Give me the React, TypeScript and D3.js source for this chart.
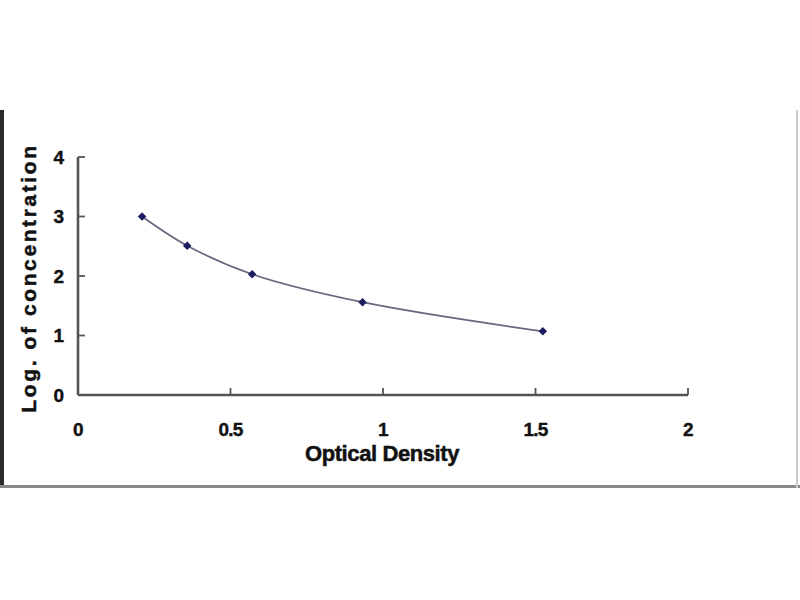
import React, { useEffect, useRef } from 'react';
import * as d3 from 'd3';

// standard curve points
const opticalDensity = [0.21, 0.358, 0.571, 0.933, 1.524];
const logConcentration = [3.0, 2.51, 2.03, 1.56, 1.07];
const xTicks = [0, 0.5, 1, 1.5, 2];
const yTicks = [0, 1, 2, 3, 4];

const xTitle = 'Optical Density';
const yTitle = 'Log. of concentration';

const App: React.FC = () => {
    const svgRef = useRef<SVGSVGElement>(null);

    useEffect(() => {
        if (!svgRef.current) return;
        const svg = d3.select(svgRef.current);
        svg.selectAll('*').remove();

        const font = '"Liberation Sans", Arial, sans-serif';
        const axisColor = '#555555';

        svg.append('rect')
            .attr('width', 800)
            .attr('height', 600)
            .attr('fill', '#ffffff');

        // frame of the pasted chart: dark left edge, gray bottom, faint right edge
        svg.append('line')
            .attr('x1', 2).attr('y1', 110).attr('x2', 2).attr('y2', 488)
            .attr('stroke', '#2a2a2a').attr('stroke-width', 4);
        svg.append('line')
            .attr('x1', 0).attr('y1', 486.5).attr('x2', 800).attr('y2', 486.5)
            .attr('stroke', '#8a8a8a').attr('stroke-width', 3);
        svg.append('line')
            .attr('x1', 797).attr('y1', 110).attr('x2', 797).attr('y2', 488)
            .attr('stroke', '#cccccc').attr('stroke-width', 2);

        const x = d3.scaleLinear().domain([0, 2]).range([78, 688]);
        const y = d3.scaleLinear().domain([0, 4]).range([395, 157]);

        // axes with inside ticks
        const g = svg.append('g');
        g.append('line')
            .attr('x1', x(0)).attr('y1', y(0)).attr('x2', x(2)).attr('y2', y(0))
            .attr('stroke', axisColor).attr('stroke-width', 2.6);
        g.append('line')
            .attr('x1', x(0)).attr('y1', y(0)).attr('x2', x(0)).attr('y2', y(4))
            .attr('stroke', axisColor).attr('stroke-width', 2.6);

        xTicks.forEach((t) => {
            g.append('line')
                .attr('x1', x(t)).attr('y1', y(0)).attr('x2', x(t)).attr('y2', y(0) - 7)
                .attr('stroke', axisColor).attr('stroke-width', 1.8);
            g.append('text')
                .attr('x', x(t))
                .attr('y', 436)
                .attr('text-anchor', 'middle')
                .attr('font-family', font)
                .attr('font-weight', 'bold')
                .attr('font-size', '19px')
                .attr('letter-spacing', '-0.8px')
                .attr('fill', '#111111')
                .attr('stroke', '#111111')
                .attr('stroke-width', 0.4)
                .text(String(t));
        });

        yTicks.forEach((t) => {
            g.append('line')
                .attr('x1', x(0)).attr('y1', y(t)).attr('x2', x(0) + 7).attr('y2', y(t))
                .attr('stroke', axisColor).attr('stroke-width', 1.8);
            g.append('text')
                .attr('x', 64)
                .attr('y', y(t))
                .attr('dy', '0.36em')
                .attr('text-anchor', 'end')
                .attr('font-family', font)
                .attr('font-weight', 'bold')
                .attr('font-size', '19px')
                .attr('fill', '#111111')
                .attr('stroke', '#111111')
                .attr('stroke-width', 0.4)
                .text(String(t));
        });

        // axis titles
        svg.append('text')
            .attr('x', 382)
            .attr('y', 461)
            .attr('text-anchor', 'middle')
            .attr('font-family', font)
            .attr('font-weight', 'bold')
            .attr('font-size', '22px')
            .attr('letter-spacing', '-0.4px')
            .attr('fill', '#111111')
            .attr('stroke', '#111111')
            .attr('stroke-width', 0.5)
            .text(xTitle);

        svg.append('text')
            .attr('transform', 'translate(36, 278) rotate(-90)')
            .attr('text-anchor', 'middle')
            .attr('font-family', font)
            .attr('font-weight', 'bold')
            .attr('font-size', '21px')
            .attr('letter-spacing', '2.6px')
            .attr('fill', '#111111')
            .attr('stroke', '#111111')
            .attr('stroke-width', 0.5)
            .text(yTitle);

        // smoothed standard curve
        const pts = opticalDensity.map((d, i) => [d, logConcentration[i]] as [number, number]);
        const line = d3.line<[number, number]>()
            .x((d) => x(d[0]))
            .y((d) => y(d[1]))
            .curve(d3.curveCatmullRom.alpha(0.5));

        svg.append('path')
            .datum(pts)
            .attr('d', line)
            .attr('fill', 'none')
            .attr('stroke', '#66687e')
            .attr('stroke-width', 1.7);

        const marker = d3.symbol().type(d3.symbolSquare).size(36);
        svg.selectAll('path.pt')
            .data(pts)
            .enter()
            .append('path')
            .attr('class', 'pt')
            .attr('d', marker)
            .attr('transform', (d) => `translate(${x(d[0])}, ${y(d[1])}) rotate(45)`)
            .attr('fill', '#1c1c5e');
    }, []);

    return (
        <svg
            ref={svgRef}
            width={800}
            height={600}
            style={{ position: 'absolute', left: 0, top: 0 }}
        ></svg>
    );
};

export default App;
